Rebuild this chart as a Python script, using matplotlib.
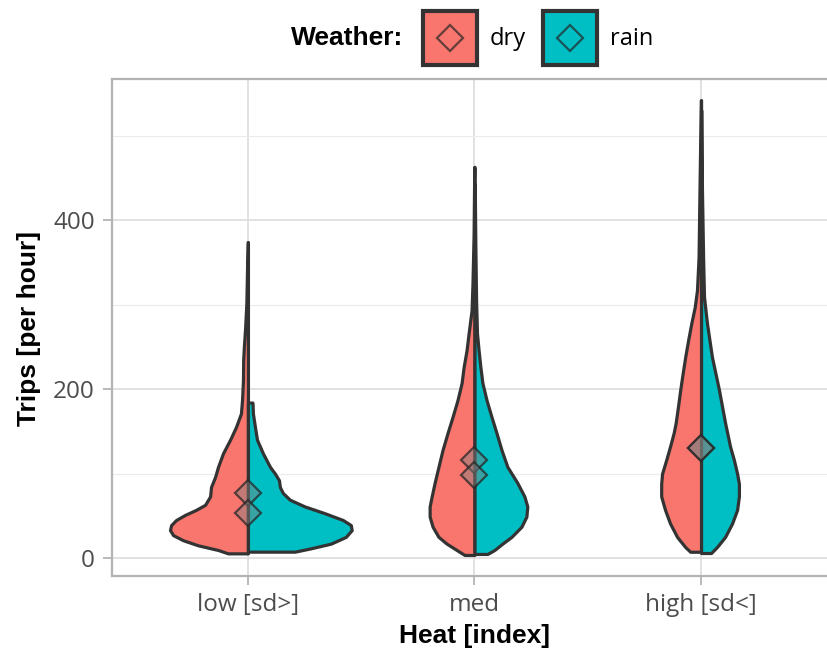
import numpy as np
import matplotlib
matplotlib.use("Agg")
import matplotlib.pyplot as plt
from matplotlib.patches import Patch, Rectangle
from matplotlib.lines import Line2D
from matplotlib.legend_handler import HandlerBase

# categories / groups
heat_levels = ["low [sd>]", "med", "high [sd<]"]
weather = ["dry", "rain"]
colors = {"dry": "#F8766D", "rain": "#00BFC4"}

# violin outlines: trips per hour -> half width (category units)
low_dry_y = [5.5, 9.5, 15, 21, 27, 33, 39, 45, 51, 57, 63, 73, 84, 96, 108, 124, 140,
             155, 171, 187, 210, 234, 250, 270, 301, 341, 374]
low_dry_w = [0.088, 0.132, 0.220, 0.286, 0.330, 0.344, 0.339, 0.317, 0.278, 0.229,
             0.189, 0.167, 0.163, 0.145, 0.132, 0.110, 0.079, 0.053, 0.031, 0.026,
             0.022, 0.021, 0.018, 0.013, 0.007, 0.004, 0.001]
low_rain_y = [7.5, 11.5, 17, 25, 33, 39, 45, 53, 61, 69, 77, 84, 92, 100, 108, 124,
              140, 155, 171, 184]
low_rain_w = [0.207, 0.278, 0.366, 0.432, 0.458, 0.454, 0.419, 0.339, 0.251, 0.185,
              0.154, 0.141, 0.137, 0.119, 0.097, 0.066, 0.040, 0.031, 0.022, 0.020]
med_dry_y = [3.6, 9.5, 17, 25, 37, 49, 61, 73, 89, 108, 128, 148, 167, 187, 207, 226,
             246, 266, 293, 324, 383, 463]
med_dry_w = [0.044, 0.079, 0.123, 0.159, 0.185, 0.198, 0.198, 0.189, 0.176, 0.159,
             0.141, 0.119, 0.097, 0.075, 0.057, 0.048, 0.035, 0.026, 0.013, 0.009,
             0.004, 0.001]
med_rain_y = [4.8, 9.5, 17, 25, 37, 49, 61, 73, 89, 108, 128, 148, 167, 187, 207, 226,
              246, 266, 305, 364, 443]
med_rain_w = [0.057, 0.088, 0.123, 0.163, 0.207, 0.229, 0.233, 0.220, 0.189, 0.145,
              0.119, 0.097, 0.075, 0.053, 0.035, 0.026, 0.018, 0.011, 0.007, 0.004,
              0.001]
high_dry_y = [7.4, 13, 25, 41, 57, 73, 88, 100, 116, 132, 148, 160, 179, 199, 219, 238,
              258, 278, 297, 317, 356, 435, 542]
high_dry_w = [0.048, 0.070, 0.106, 0.137, 0.159, 0.176, 0.176, 0.172, 0.154, 0.137,
              0.121, 0.112, 0.102, 0.092, 0.081, 0.070, 0.057, 0.043, 0.028, 0.018,
              0.011, 0.007, 0.001]
high_rain_y = [5.9, 13, 25, 41, 57, 73, 88, 100, 116, 132, 160, 199, 238, 278, 309, 356,
               435, 530]
high_rain_w = [0.044, 0.070, 0.106, 0.137, 0.159, 0.167, 0.167, 0.159, 0.145, 0.128,
               0.106, 0.079, 0.048, 0.026, 0.013, 0.009, 0.004, 0.001]

# group means (diamonds)
dry_means = [77, 116, 130]
rain_means = [53, 98, 130]

profiles = {
    ("low [sd>]", "dry"): (low_dry_y, low_dry_w),
    ("low [sd>]", "rain"): (low_rain_y, low_rain_w),
    ("med", "dry"): (med_dry_y, med_dry_w),
    ("med", "rain"): (med_rain_y, med_rain_w),
    ("high [sd<]", "dry"): (high_dry_y, high_dry_w),
    ("high [sd<]", "rain"): (high_rain_y, high_rain_w),
}

edge = "#333333"
tick_font = "Open Sans"
title_font = "Liberation Sans"


class BoxDiamond(HandlerBase):
    # legend key: filled square with an open diamond in the middle
    def create_artists(self, legend, orig_handle, xdescent, ydescent, width, height,
                       fontsize, trans):
        r = Rectangle((-xdescent, -ydescent), width, height,
                      facecolor=orig_handle.get_facecolor(), edgecolor=edge,
                      linewidth=3, transform=trans)
        d = Line2D([width / 2 - xdescent], [height / 2 - ydescent], ls="none",
                   marker="D", ms=13, mfc="none", mec=(0.15, 0.15, 0.15, 0.7),
                   mew=1.6, transform=trans)
        return [r, d]


fig = plt.figure(figsize=(8.28, 6.55), dpi=100)
ax = fig.add_axes([112 / 828, 79 / 655, 725 / 828, 497 / 655])

for i, lvl in enumerate(heat_levels):
    x0 = i + 1
    for g in weather:
        yy, ww = profiles[(lvl, g)]
        yy = np.array(yy, float)
        ww = np.array(ww, float)
        side = -1 if g == "dry" else 1
        ax.fill_betweenx(yy, x0, x0 + side * ww, facecolor=colors[g], edgecolor=edge,
                         linewidth=2.3, joinstyle="round", zorder=3)

xs = np.arange(1, len(heat_levels) + 1)
for means in (dry_means, rain_means):
    ax.plot(xs, means, ls="none", marker="D", ms=13, mfc=(0.5, 0.5, 0.5, 0.45),
            mec=(0.15, 0.15, 0.15, 0.75), mew=1.6, zorder=5)

ax.set_xlim(0.4, 3.6)
ax.set_ylim(-21.3, 567)
ax.set_xticks(xs)
ax.set_xticklabels(heat_levels)
ax.set_yticks([0, 200, 400])
ax.set_yticks([100, 300, 500], minor=True)
ax.grid(True, which="major", color="#DEDEDE", linewidth=1.3, zorder=0)
ax.grid(True, which="minor", axis="y", color="#EBEBEB", linewidth=0.8, zorder=0)
ax.set_axisbelow(True)
ax.tick_params(which="major", length=6.5, width=1.3, color="#B3B3B3", pad=6,
               labelsize=17.5, labelcolor="#4D4D4D")
ax.tick_params(which="minor", length=0)
for lab in ax.get_xticklabels() + ax.get_yticklabels():
    lab.set_fontfamily(tick_font)
for s in ax.spines.values():
    s.set_color("#B3B3B3")
    s.set_linewidth(1.6)

fig.text(474.5 / 828, 1 - 636 / 655, "Heat [index]", ha="center", va="center",
         fontsize=19, fontweight="bold", family=title_font)
fig.text(29.5 / 828, 1 - 328 / 655, "Trips [per hour]", ha="center", va="center",
         rotation=90, fontsize=19, fontweight="bold", family=title_font)

handles = [Patch(facecolor=colors[g]) for g in weather]
leg = fig.legend(handles, weather, handler_map={Patch: BoxDiamond()},
                 loc="center", bbox_to_anchor=(538 / 828, 1 - 38 / 655), ncol=2,
                 frameon=False, handlelength=2.29, handleheight=3.15,
                 handletextpad=0.55, columnspacing=0.7, borderpad=0,
                 prop={"family": tick_font, "size": 17})
fig.text(347 / 828, 1 - 38 / 655, "Weather:", ha="center", va="center",
         fontsize=19, fontweight="bold", family=title_font)

fig.savefig("out.png", dpi=100)
